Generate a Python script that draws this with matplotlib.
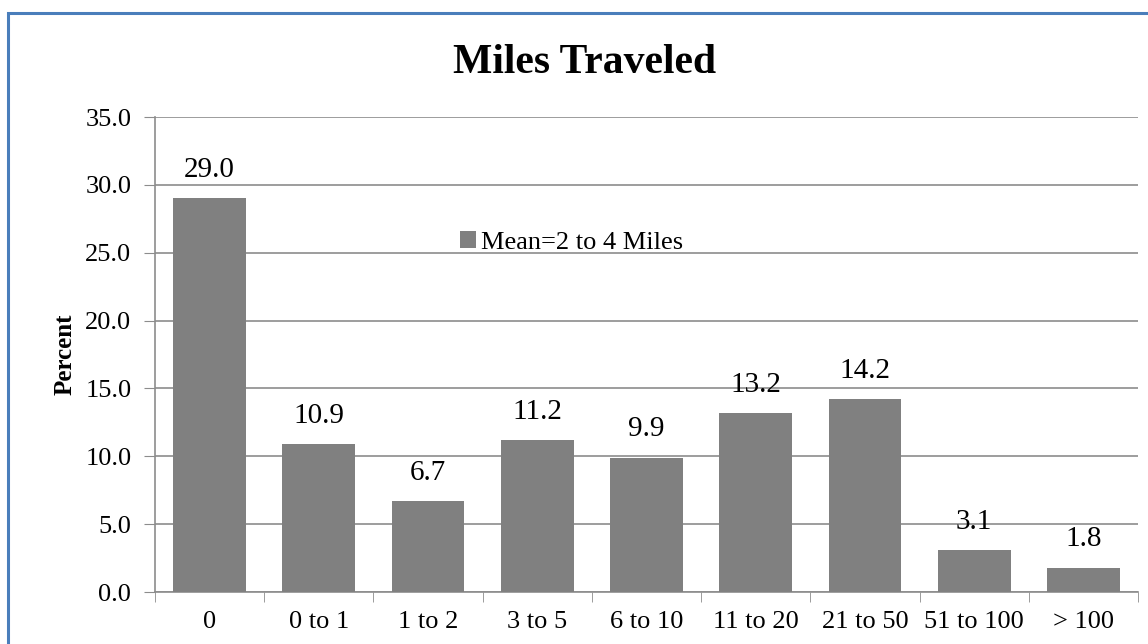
import matplotlib.pyplot as plt
from matplotlib.patches import Rectangle
import numpy as np

# ======================
# DATA
# ======================
categories = ["0", "0 to 1", "1 to 2", "3 to 5", "6 to 10",
              "11 to 20", "21 to 50", "51 to 100", "> 100"]
percent = [29.0, 10.9, 6.7, 11.2, 9.9, 13.2, 14.2, 3.1, 1.8]
yticks = [0, 5, 10, 15, 20, 25, 30, 35]
legend_label = "Mean=2 to 4 Miles"

bar_color = "#808080"
grid_color = "#8c8c8c"

plt.rcParams["font.family"] = ["Liberation Serif", "DejaVu Serif"]

fig = plt.figure(figsize=(11.48, 6.44), dpi=100)
ax = fig.add_axes([0.135, 0.0807, 0.8563, 0.7376])

x = np.arange(len(categories))
bars = ax.bar(x, percent, width=0.667, color=bar_color, zorder=3,
              label=legend_label)

# value labels above bars
for xi, v in zip(x, percent):
    ax.annotate(f"{v:.1f}", (xi, v), xytext=(0, 11), textcoords="offset points",
                ha="center", va="bottom", fontsize=21, color="black")

ax.set_xlim(-0.5, len(categories) - 0.5)
ax.set_ylim(0, 35)
ax.set_yticks(yticks)
ax.set_yticklabels([f"{t:.1f}" for t in yticks], fontsize=19)
ax.yaxis.grid(True, color=grid_color, linewidth=1.2, zorder=0)
ax.set_axisbelow(True)

# category labels centered, ticks at boundaries
ax.set_xticks(x)
ax.set_xticklabels(categories, fontsize=19)
ax.tick_params(axis="x", which="major", length=0, pad=14)
ax.set_xticks(np.arange(-0.5, len(categories)), minor=True)
ax.tick_params(axis="x", which="minor", length=7, color=grid_color, direction="out")
ax.tick_params(axis="y", length=8, color=grid_color, direction="out", pad=9)

for side in ["top", "right"]:
    ax.spines[side].set_visible(False)
for side in ["left", "bottom"]:
    ax.spines[side].set_color(grid_color)
    ax.spines[side].set_linewidth(1.2)

fig.text(0.0565, 0.45, "Percent", rotation=90, fontsize=18,
         fontweight="bold", ha="center", va="center")

fig.text(0.509, 1 - 73 / 644, "Miles Traveled", fontsize=30, fontweight="bold",
         ha="center", va="baseline")

ax.legend(loc="upper left", bbox_to_anchor=(0.31, 0.76), frameon=False,
          fontsize=19, handlelength=0.6, handleheight=0.6, handletextpad=0.2,
          borderpad=0, borderaxespad=0)

# chart border
fig.patches.append(Rectangle((8 / 1148, -0.1), 1.2, 1 - 13 / 644 + 0.1,
                             transform=fig.transFigure, fill=False,
                             edgecolor="#4a7ebb", linewidth=2.2))

fig.savefig("out.png", dpi=100, facecolor="white")
